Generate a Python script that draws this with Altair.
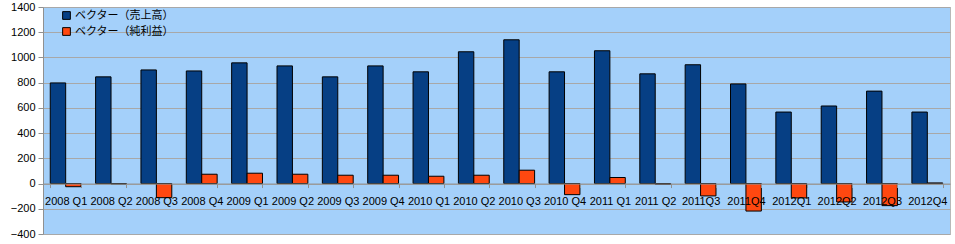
import altair as alt
import pandas as pd

quarters = ["2008 Q1", "2008 Q2", "2008 Q3", "2008 Q4",
            "2009 Q1", "2009 Q2", "2009 Q3", "2009 Q4",
            "2010 Q1", "2010 Q2", "2010 Q3", "2010 Q4",
            "2011 Q1", "2011 Q2", "2011Q3", "2011Q4",
            "2012Q1", "2012Q2", "2012Q3", "2012Q4"]
sales = [798, 846, 901, 893, 957, 933, 846, 933, 886, 1045,
         1140, 886, 1053, 870, 942, 790, 567, 615, 733, 567]
net_income = [-25, -3, -112, 74, 82, 74, 66, 66, 58, 66,
              106, -88, 48, -5, -98, -218, -114, -146, -175, 5]
series_names = ["ベクター（売上高）", "ベクター（純利益）"]
series_colors = ["#063f84", "#ff4810"]
y_ticks = [-400, -200, 0, 200, 400, 600, 800, 1000, 1200, 1400]

rows = []
for i, q in enumerate(quarters):
    rows.append({"quarter": q, "series": series_names[0], "value": sales[i]})
    rows.append({"quarter": q, "series": series_names[1], "value": net_income[i]})
df = pd.DataFrame(rows)

W, H = 907, 227
zero_offset = -H * 400 / 1800

chart = alt.Chart(df).mark_bar(stroke="black", strokeWidth=1).encode(
    x=alt.X("quarter:N", sort=quarters, title=None,
            scale=alt.Scale(paddingInner=0.32, paddingOuter=0.16),
            axis=alt.Axis(orient="bottom", offset=zero_offset, labelAngle=0,
                          labelFont="Liberation Sans", labelFontSize=11,
                          labelColor="black", labelPadding=8,
                          domainColor="#909090", tickColor="#909090",
                          tickSize=4, tickBand="extent", zindex=1,
                          labelOverlap=False)),
    xOffset=alt.XOffset("series:N", sort=series_names,
                        scale=alt.Scale(paddingInner=0, paddingOuter=0)),
    y=alt.Y("value:Q", title=None,
            scale=alt.Scale(domain=[-400, 1400], nice=False, zero=False),
            axis=alt.Axis(values=y_ticks, format="d",
                          labelFont="Liberation Sans", labelFontSize=11,
                          labelColor="black", labelPadding=3,
                          domainColor="#909090", tickColor="#909090",
                          tickSize=5, gridColor="#a8a8a8", gridWidth=1)),
    color=alt.Color("series:N", sort=series_names,
                    scale=alt.Scale(domain=series_names, range=series_colors),
                    legend=alt.Legend(title=None, orient="none",
                                      legendX=18, legendY=3,
                                      symbolType="square", symbolSize=60,
                                      symbolStrokeColor="black",
                                      symbolStrokeWidth=1,
                                      labelFont="Noto Sans CJK JP",
                                      labelFontSize=11, labelColor="black",
                                      labelOffset=3, rowPadding=3,
                                      padding=0)),
).properties(
    width=W, height=H,
    padding={"left": 43, "top": 7, "right": 5, "bottom": 10},
    autosize=alt.AutoSizeParams(type="none"),
    background="white",
).configure_view(
    fill="#a4d0fa", stroke="#b8b8b8", strokeWidth=1
)

chart.save("out.html", embed_options={"renderer": "svg", "actions": False})
